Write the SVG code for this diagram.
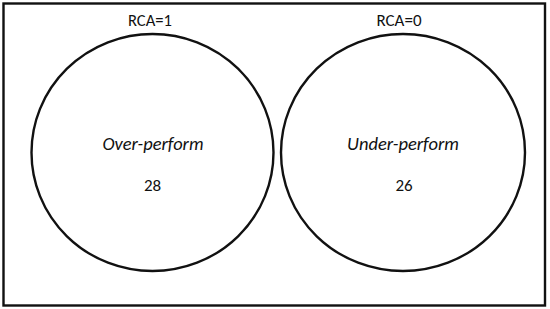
<svg xmlns="http://www.w3.org/2000/svg" width="550" height="309" viewBox="0 0 550 309">
<style>
  .lbl{font-family:Carlito,Lato,"Liberation Sans",sans-serif;fill:#111;text-anchor:middle}
  .circ{fill:none;stroke:#111;stroke-width:2.4}
</style>
<rect x="0" y="0" width="550" height="309" fill="#fff"/>
<rect x="3.5" y="3.5" width="541.5" height="302" fill="none" stroke="#111" stroke-width="2.4"/>
<g id="rca1">
  <ellipse class="circ" cx="152.5" cy="152.5" rx="121" ry="118.5"/>
  <text class="lbl" x="150" y="25.5" font-size="16" textLength="44" lengthAdjust="spacingAndGlyphs">RCA=1</text>
  <text class="lbl" x="153" y="150" font-size="17.5" font-style="italic" textLength="101" lengthAdjust="spacingAndGlyphs">Over-perform</text>
  <text class="lbl" x="152.5" y="191" font-size="17">28</text>
</g>
<g id="rca0">
  <ellipse class="circ" cx="403" cy="152.5" rx="122" ry="118.5"/>
  <text class="lbl" x="399" y="25.5" font-size="16" textLength="45" lengthAdjust="spacingAndGlyphs">RCA=0</text>
  <text class="lbl" x="403" y="150" font-size="17.5" font-style="italic" textLength="112" lengthAdjust="spacingAndGlyphs">Under-perform</text>
  <text class="lbl" x="404" y="191" font-size="17">26</text>
</g>
<g id="connectors"/>
</svg>
